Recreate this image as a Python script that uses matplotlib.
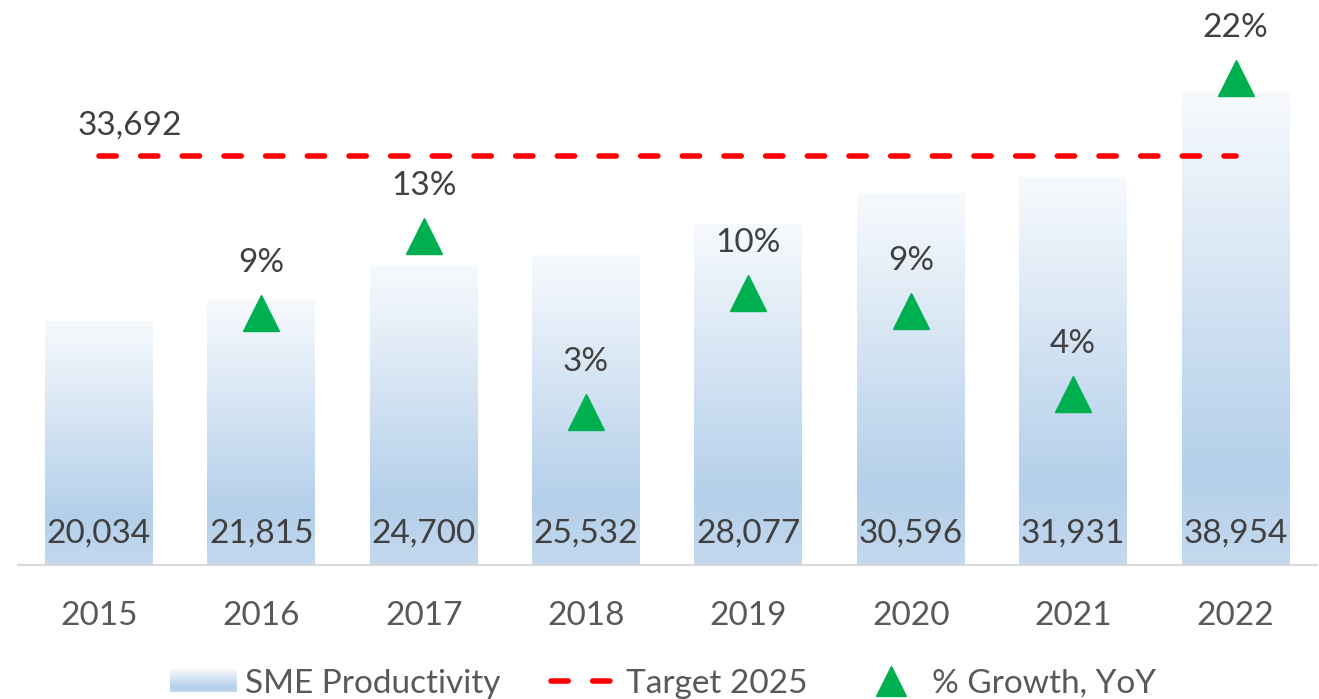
import numpy as np
import matplotlib
matplotlib.use('Agg')
import matplotlib.pyplot as plt
from matplotlib.colors import LinearSegmentedColormap
from matplotlib.lines import Line2D
from matplotlib.patches import Patch
from matplotlib.legend_handler import HandlerBase
from matplotlib.image import BboxImage
from matplotlib.transforms import Bbox, TransformedBbox

plt.rcParams['font.family'] = ['Lato', 'DejaVu Sans']

# Data
years = ['2015', '2016', '2017', '2018', '2019', '2020', '2021', '2022']
productivity = [20034, 21815, 24700, 25532, 28077, 30596, 31931, 38954]
target_2025 = 33692
growth = [None, 8.9, 13.2, 3.4, 10.0, 9.0, 4.4, 22.0]

# Colours
bar_cmap = LinearSegmentedColormap.from_list(
    'bar', [(0.0, '#c4d9ee'), (0.2, '#b4cfea'), (1.0, '#f7fafd')])
text_dark = '#404040'
text_grey = '#595959'
green = '#00b050'
red = '#ff0000'

fig = plt.figure(figsize=(13.19, 6.99), dpi=100)
ax = fig.add_axes([0.0135, 0.1917, 0.9848, 0.781])
x = np.arange(len(years))
bar_w = 0.665
grad = np.linspace(0, 1, 256).reshape(-1, 1)

for xi, v in zip(x, productivity):
    ax.imshow(grad, cmap=bar_cmap, origin='lower', aspect='auto',
              extent=[xi - bar_w / 2, xi + bar_w / 2, 0, v], zorder=1)
    ax.annotate(f'{v:,}', xy=(xi, 0), xytext=(0, 16), textcoords='offset points',
                ha='center', va='baseline', fontsize=24, color=text_dark, zorder=4)

# Target line
tline, = ax.plot([x[0], x[-1]], [target_2025, target_2025], color=red, lw=4,
                 dash_capstyle='round', zorder=3)
tline.set_dashes((3.1, 4.4))
ax.annotate(f'{target_2025:,}', xy=(x[0], target_2025), xytext=(22, 22),
            textcoords='offset points', ha='center', va='center',
            fontsize=24, color=text_dark)

ax.set_xlim(-0.5, len(years) - 0.5)
ax.set_ylim(0, 45000)
ax.set_xticks(x)
ax.set_xticklabels(years, fontsize=24, color=text_grey)
ax.tick_params(axis='x', length=0, pad=26)
ax.set_yticks([])
for s in ['top', 'left', 'right']:
    ax.spines[s].set_visible(False)
ax.spines['bottom'].set_color('#d9d9d9')
ax.spines['bottom'].set_linewidth(1.5)

# Growth on secondary axis
ax2 = ax.twinx()
gx = [xi for xi, g in zip(x, growth) if g is not None]
gy = [g for g in growth if g is not None]
ax2.plot(gx, gy, linestyle='none', marker='^', markersize=26, color=green, zorder=5)
for xi, g in zip(gx, gy):
    ax2.annotate(f'{g:.0f}%', xy=(xi, g), xytext=(0, 36), textcoords='offset points',
                 ha='center', va='center', fontsize=24, color=text_dark)
ax2.set_ylim(-5.15, 25.28)
ax2.set_yticks([])
for s in ax2.spines.values():
    s.set_visible(False)


class GradientHandler(HandlerBase):
    def create_artists(self, legend, orig_handle, xdescent, ydescent,
                       width, height, fontsize, trans):
        bb = TransformedBbox(Bbox.from_bounds(-xdescent, -ydescent, width, height), trans)
        img = BboxImage(bb, cmap=bar_cmap, origin='lower', interpolation='bilinear')
        img.set_data(grad)
        return [img]


sme_handle = Patch(label='SME Productivity')
target_handle = Line2D([0], [0], color=red, lw=4, dash_capstyle='round',
                       dashes=(3.1, 4.4), label='Target 2025')
growth_handle = Line2D([0], [0], linestyle='none', marker='^', markersize=22,
                       color=green, label='% Growth, YoY')
fig.legend(handles=[sme_handle, target_handle, growth_handle],
           handler_map={Patch: GradientHandler()},
           loc='center', bbox_to_anchor=(0.503, 0.022), ncols=3, frameon=False,
           fontsize=24, labelcolor=text_grey, handlelength=2.0, handleheight=0.65,
           handletextpad=0.25, columnspacing=1.5)

fig.savefig('out.png', dpi=100)
